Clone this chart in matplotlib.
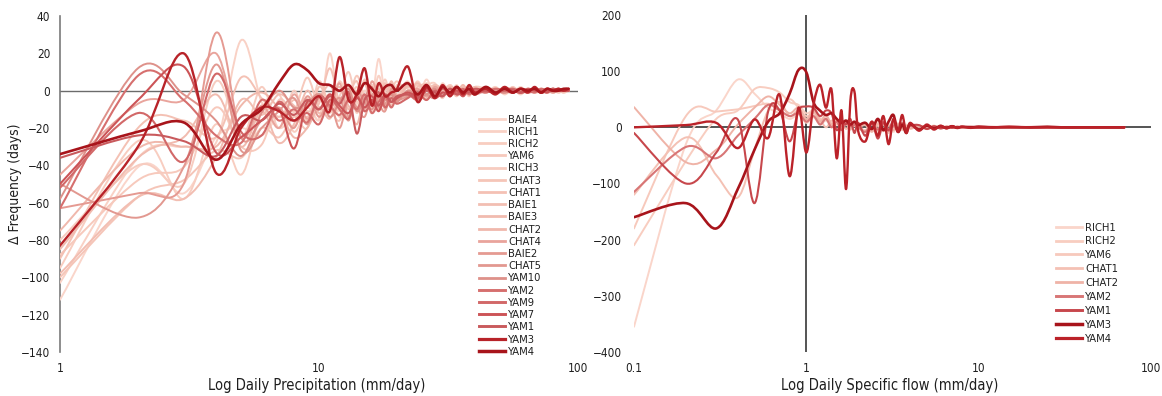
import numpy as np
import matplotlib
matplotlib.use("Agg")
import matplotlib.pyplot as plt
from matplotlib.path import Path
from matplotlib.patches import PathPatch
from matplotlib.lines import Line2D

plt.rcParams['font.family'] = ['DejaVu Sans']
plt.rcParams['font.stretch'] = 'condensed'

# ---- left panel: precipitation ----
precip_x = [1, 2, 3, 4, 5, 6, 7, 8, 9, 10, 11, 12, 13, 14, 15, 16, 17, 18, 19, 20,
            22, 24, 26, 28, 30, 32, 34, 36, 38, 40,
            44, 48, 52, 56, 60, 64, 68, 72, 76, 80, 84, 88, 92]

baie4_p = [-112, -41, -55, -25, -20, -24, -14, -19, -9, -16, -4, -11, -2, -7, 5, -4, 17, -2, 4, -6,
           3, -4, 6, -3, 4, -2, 3, -3, 2, -1, 2, -2, 1, -1, 2, -1, 1, -1, 1, 0, 1, 0, 0]
rich1_p = [-103, -36, -30, -28, 27, -6, -20, -12, -4, -15, 20, -10, 2, -12, 0, -6, 8, -4, 2, -3,
           5, -6, 2, 4, -3, 2, -2, 3, -2, 1, -1, 2, -2, 1, 0, 1, -1, 1, 0, -1, 1, 0, 0]
rich2_p = [-95, -27, -58, -18, -45, -10, -2, -22, -8, -3, -12, 5, -6, 2, -10, 3, -3, 6, -5, 1,
           -4, 5, -3, 1, -4, 3, -1, 1, -3, 2, 1, -1, 2, -1, 1, 0, 1, -1, 0, 1, 0, -1, 0]
yam6_p = [-88, -48, -41, -9, -30, -29, -5, -11, 7, -9, -2, -14, -5, 8, -4, -9, 3, -7, -1, 5,
          -2, 3, -5, 2, 1, -3, 2, -1, 2, -2, 1, 0, -1, 2, -1, 1, -1, 0, 1, -1, 0, 1, 0]
rich3_p = [-80, -40, -50, 5, -25, 2, -20, 0, -16, 5, -8, -3, 10, -6, -2, -12, 4, 0, -6, 3,
           1, -4, 4, -2, -1, 3, -2, 1, 0, -2, 2, -1, 0, 1, -2, 1, 0, -1, 1, 0, -1, 0, 0]
chat3_p = [-100, -57, -48, -32, -36, -20, -25, -14, -20, 2, -9, -16, -1, -10, 6, -6, -2, -8, 3, -4,
           4, -3, 0, 3, -2, 1, -3, 2, -1, 1, -1, 1, 0, -1, 1, 0, 1, -1, 0, 1, -1, 0, 0]
chat1_p = [-90, -20, -16, -25, 7, -4, -14, -5, -11, -7, 12, -6, -3, 5, -11, 0, -5, 4, -8, 1,
           -3, 2, 3, -4, 1, 2, -2, 0, 2, -1, 0, -1, 1, 1, -1, 0, 1, -1, 1, 0, 0, -1, 0]
baie1_p = [-98, -57, -58, -36, -5, -13, -2, -8, -14, -5, 3, -9, -14, 0, -7, 2, -10, 1, -3, -5,
           2, -2, -4, 3, 0, -2, 2, -1, -1, 2, -1, 1, -1, 0, 1, -1, 0, 1, -1, 0, 1, 0, 0]
baie3_p = [-85, -36, -25, -2, -30, -11, -28, -18, 0, -12, -6, 2, -10, -4, 4, -8, -1, -5, 5, -2,
           -1, 4, -2, -3, 2, 0, -1, 3, -2, 0, 1, -2, 1, 0, -1, 1, -1, 0, 1, -1, 0, 0, 0]
chat2_p = [-75, -31, -30, -30, -8, -1, -10, -25, -20, -9, -15, -4, -8, -18, -3, -7, 1, -10, -2, -6,
           3, -5, 1, -1, -3, 2, 0, -2, 1, -1, 0, 1, -1, 1, 0, -1, 1, 0, -1, 1, 0, 0, 0]
chat4_p = [-45, -7, -5, 20, -25, -8, -20, -2, -15, -4, -10, 4, -14, -2, -9, 5, -4, -8, 0, -3,
           -2, 1, -3, 2, -1, -1, 2, -2, 1, 0, 1, -1, 0, 1, -1, 0, 1, -1, 0, 1, 0, 0, 0]
baie2_p = [-63, -55, -50, 31, -25, -16, -9, -20, -3, -14, -6, -20, -4, -9, -14, -2, -7, -11, 1, -4,
           -2, -4, 1, -2, 2, -3, 1, -1, 0, -2, 1, 0, -1, 1, 0, -1, 1, 0, -1, 0, 1, 0, 0]
chat5_p = [-50, -68, -41, 14, -32, -20, -11, -4, -18, -2, -9, -4, -16, -1, -6, -10, -3, -7, -1, -5,
           -3, 0, -2, -4, 1, -2, 0, -1, 1, -2, 0, 1, -1, 0, 1, -1, 0, 1, 0, -1, 0, 0, 0]
yam10_p = [-58, 12, -2, -16, -35, -12, 0, -9, -7, -2, -14, -6, 1, -11, -4, 2, -9, -5, -2, -6,
           0, -3, -2, 1, -2, -1, 1, -2, 0, -1, 1, 0, -1, 1, -1, 0, 1, -1, 0, 1, 0, 0, 0]
yam2_p = [-63, 8, -5, -24, -28, -5, -16, -10, -17, -3, -8, -13, -5, -10, -2, -12, -6, -3, -9, -4,
          -2, -5, 0, -3, 1, -2, -1, 1, -2, 0, -1, 1, 0, -1, 1, 0, -1, 1, 0, 0, 1, 0, 0]
yam9_p = [-52, -12, -38, 9, -22, -24, -6, -16, -12, -18, -5, -10, -15, -3, -11, -6, -1, -9, -4, -7,
          -4, -1, -5, 0, -3, 1, -2, -1, 0, -2, 1, -1, 0, 1, -1, 0, 1, -1, 0, 0, 1, 0, 0]
yam7_p = [-50, -5, 13, -33, -25, -16, -10, -31, -6, -10, -2, -8, -12, -4, -9, -5, -11, -3, -6, -4,
          -1, -3, 1, -4, -1, -2, 0, -3, 1, -1, 0, -1, 1, 0, -1, 1, 0, 0, -1, 1, 0, 0, 0]
yam1_p = [-36, -24, -27, -35, -14, -16, -7, -13, -5, -10, -3, -7, -1, -23, -5, -3, -8, -2, -6, -3,
          -2, -4, 0, -1, -3, 1, -2, 0, -1, 1, 0, -1, 1, 0, -1, 0, 1, -1, 0, 1, 0, 0, 0]
yam3_p = [-83, -30, 20, -44, -20, -9, -11, -16, -9, -3, -11, 18, -5, -2, 12, -8, 4, -3, -1, 1,
          13, -6, 2, -4, 3, -3, 2, -2, 3, -1, 1, -2, 2, -1, 1, -1, 2, -1, 1, 0, 1, 0, 1]
yam4_p = [-34, -22, -17, -37, -18, -10, 4, 14, 11, 4, 3, 0, 3, -2, 4, 1, -3, 2, 3, 0,
          4, -2, 3, -3, 2, -1, 2, -1, 1, -2, 2, -1, 1, -1, 1, 0, 1, -1, 1, 0, 0, 1, 1]

precip_names = ['BAIE4', 'RICH1', 'RICH2', 'YAM6', 'RICH3', 'CHAT3', 'CHAT1', 'BAIE1', 'BAIE3', 'CHAT2',
                'CHAT4', 'BAIE2', 'CHAT5', 'YAM10', 'YAM2', 'YAM9', 'YAM7', 'YAM1', 'YAM3', 'YAM4']
precip_series = [baie4_p, rich1_p, rich2_p, yam6_p, rich3_p, chat3_p, chat1_p, baie1_p, baie3_p, chat2_p,
                 chat4_p, baie2_p, chat5_p, yam10_p, yam2_p, yam9_p, yam7_p, yam1_p, yam3_p, yam4_p]

# ---- right panel: specific flow ----
flow_x = [0.1, 0.2, 0.3, 0.4, 0.5, 0.6, 0.7, 0.8, 0.9, 1.0, 1.1, 1.2, 1.3, 1.4, 1.5, 1.6, 1.7, 1.8, 1.9, 2.0,
          2.2, 2.4, 2.6, 2.8, 3.0, 3.2, 3.4, 3.6, 3.8, 4.0,
          4.5, 5, 5.5, 6, 6.5, 7, 7.5, 8, 9, 10,
          12, 15, 20, 25, 30, 40, 50, 60, 70]

rich1_q = [-355, -30, 30, 85, 60, 35, 25, 15, 22, 8, 18, 5, 12, 2, 9, -3, 6, 0, 4, -2,
           8, -6, 10, -4, 6, -8, 4, -2, 5, -3, 3, -2, 2, -1, 2, -1, 1, 0, 1, 0,
           1, 0, 0, 1, 0, 0, 0, 0, 0]
rich2_q = [-210, -60, 15, 30, 68, 70, 62, 45, 40, 25, 30, 15, 20, 8, 12, 4, 10, 0, 5, 2,
           -5, 10, -8, 6, -3, 4, -6, 3, -2, 4, -3, 2, -1, 2, -1, 1, 0, 1, -1, 0,
           0, 1, 0, 0, 0, 0, 0, 0, 0]
yam6_q = [-180, 20, 28, 32, 38, 42, 32, 50, 35, 20, 25, 10, 16, 4, 11, -2, 7, 3, 6, 0,
          6, -4, 3, -7, 5, -2, 4, -5, 3, -1, 2, -3, 1, 0, -1, 1, -1, 0, 1, 0,
          0, 0, 1, 0, 0, 0, 0, 0, 0]
chat1_q = [-120, -18, -85, -125, -40, 30, 45, 20, 30, 12, 28, 15, 0, 12, 5, 8, -3, 6, 2, 4,
           -6, 8, -3, 5, -10, 6, -2, 3, -4, 2, 2, -1, 3, -2, 1, 0, 1, -1, 0, 1,
           0, 0, 0, 1, 0, 0, 0, 0, 0]
chat2_q = [36, -62, -40, 5, 35, 55, 40, 25, 35, 15, 30, 10, 22, 5, 15, 0, 8, -4, 5, 0,
           4, -8, 6, -2, 3, -5, 7, -3, 2, -2, 1, 2, -2, 1, 0, -1, 1, 0, 0, -1,
           1, 0, 0, 0, 0, 0, 0, 0, 0]
yam2_q = [-115, -35, -55, -15, 15, 40, 30, 20, 25, 10, 20, 5, 15, 0, 10, -5, 8, 2, 4, 0,
          -8, 6, -4, 10, -6, 3, -5, 8, -2, 3, -3, 2, -1, 1, -1, 1, 0, 1, 0, -1,
          0, 1, 0, 0, 0, 0, 0, 0, 0]
yam1_q = [-10, -100, -45, 14, -135, 28, 30, -25, 30, 37, 35, 20, 30, 25, -5, 10, 5, 15, -10, 8,
          -15, 10, -20, 8, -5, 12, -8, 4, -6, 3, 4, -3, 2, -2, 1, -1, 1, 0, 1, -1,
          0, 1, 0, 0, 0, 0, 0, 0, 0]
yam3_q = [-160, -135, -180, -110, -40, 10, 25, 60, 102, 98, 45, 30, 22, 25, 15, 8, 12, 5, 10, 4,
          8, -3, 15, -5, 10, 22, -8, 5, -10, 6, -4, 3, -2, 2, -1, 2, -1, 1, 0, 1,
          0, 0, 0, 1, 0, 0, 0, 0, 0]
yam4_q = [0, 4, 8, -37, 14, -19, 58, -87, 35, -45, 40, 76, 35, 67, -55, 30, -110, 46, 64, -7,
          -25, 10, -15, 20, -30, 15, -8, 22, -10, 8, -6, 5, -4, 3, -2, 2, -1, 1, -1, 1,
          0, 1, 0, 0, 0, 0, 0, 0, 0]

flow_names = ['RICH1', 'RICH2', 'YAM6', 'CHAT1', 'CHAT2', 'YAM2', 'YAM1', 'YAM3', 'YAM4']
flow_series = [rich1_q, rich2_q, yam6_q, chat1_q, chat2_q, yam2_q, yam1_q, yam3_q, yam4_q]

# ---- styles ----
precip_colors = ['#FAD5CA', '#F9D1C5', '#F8CDC0', '#F7C9BC', '#F7CCC0', '#F5C5B8', '#F4C1B4', '#F2BEB2',
                 '#F1BBAF', '#F0B8AC', '#E9A49C', '#E59A92', '#E29890', '#DE918A', '#D66F6E', '#D26868',
                 '#CC5457', '#C95A5D', '#B82329', '#A8141B']
precip_widths = [1.4] * 14 + [1.5] * 4 + [1.7, 1.9]
flow_colors = ['#FAD5CA', '#F8CDC0', '#F7C9BC', '#F4C1B4', '#EFB3A7', '#D87676', '#C7474C', '#A8141B', '#BB2229']
flow_widths = [1.4] * 5 + [1.5, 1.5, 1.9, 1.7]

TEXT = '#1f1f1f'


def smooth_line(ax, xs, ys, color, lw):
    # excel-like smoothed line: bezier through the points in log-x display space
    u = np.log10(np.asarray(xs, dtype=float))
    y = np.asarray(ys, dtype=float)
    n = len(u)
    verts = [(u[0], y[0])]
    codes = [Path.MOVETO]
    for i in range(n - 1):
        a = max(i - 1, 0)
        b = min(i + 2, n - 1)
        verts.append((u[i] + (u[i + 1] - u[a]) / 6, y[i] + (y[i + 1] - y[a]) / 6))
        verts.append((u[i + 1] - (u[b] - u[i]) / 6, y[i + 1] - (y[b] - y[i]) / 6))
        verts.append((u[i + 1], y[i + 1]))
        codes += [Path.CURVE4] * 3
    verts = np.array(verts)
    verts[:, 0] = 10 ** verts[:, 0]
    ax.add_patch(PathPatch(Path(verts, codes), facecolor='none', edgecolor=color, lw=lw,
                           capstyle='round', joinstyle='round', zorder=3))


fig = plt.figure(figsize=(11.62, 3.96), dpi=100)
ax1 = fig.add_axes([60 / 1162, 1 - 352 / 396, 518 / 1162, 336 / 396])
ax2 = fig.add_axes([634 / 1162, 1 - 352 / 396, 517 / 1162, 337 / 396])

# left
ax1.set_xscale('log')
ax1.set_xlim(1, 100)
ax1.set_ylim(-140, 40)
ax1.axhline(0, color='#6b6b6b', lw=1.0, zorder=1)
for vals, c, w in zip(precip_series, precip_colors, precip_widths):
    smooth_line(ax1, precip_x, vals, c, w)
for s in ['top', 'right', 'bottom']:
    ax1.spines[s].set_visible(False)
ax1.spines['left'].set_color('#7a7a7a')
ax1.spines['left'].set_linewidth(1.2)
ax1.set_yticks(range(-140, 41, 20))
ax1.set_xticks([1, 10, 100])
ax1.set_xticklabels(['1', '10', '100'])
ax1.minorticks_off()
ax1.tick_params(length=0, labelsize=8.5, colors=TEXT)
ax1.tick_params(axis='y', pad=7)
ax1.tick_params(axis='x', pad=7)
ax1.set_xlabel('Log Daily Precipitation (mm/day)', fontsize=10.5, color=TEXT)
ax1.xaxis.set_label_coords(0.496, -0.078)
ax1.set_ylabel('Δ Frequency (days)', fontsize=10, color=TEXT)
ax1.yaxis.set_label_coords(-0.073, 0.5)
h1 = [Line2D([], [], color=c, lw=w + 0.6) for c, w in zip(precip_colors, precip_widths)]
ax1.legend(h1, precip_names, loc='upper left', bbox_to_anchor=(473 / 1162, 1 - 109 / 396),
           bbox_transform=fig.transFigure, frameon=False, fontsize=8, labelspacing=0.2,
           handlelength=2.4, handletextpad=0.25, borderpad=0, labelcolor=TEXT)

# right
ax2.set_xscale('log')
ax2.set_xlim(0.1, 100)
ax2.set_ylim(-400, 200)
ax2.axhline(0, color='#262626', lw=1.1, zorder=1)
ax2.axvline(1, color='#262626', lw=1.1, zorder=1)
for vals, c, w in zip(flow_series, flow_colors, flow_widths):
    smooth_line(ax2, flow_x, vals, c, w)
for s in ax2.spines.values():
    s.set_visible(False)
ax2.set_yticks(range(-400, 201, 100))
ax2.set_xticks([0.1, 1, 10, 100])
ax2.set_xticklabels(['0.1', '1', '10', '100'])
ax2.minorticks_off()
ax2.tick_params(length=0, labelsize=8.5, colors=TEXT)
ax2.tick_params(axis='y', pad=9)
ax2.tick_params(axis='x', pad=7)
ax2.set_xlabel('Log Daily Specific flow (mm/day)', fontsize=10.5, color=TEXT)
ax2.xaxis.set_label_coords(0.495, -0.078)
h2 = [Line2D([], [], color=c, lw=w + 0.6) for c, w in zip(flow_colors, flow_widths)]
ax2.legend(h2, flow_names, loc='upper left', bbox_to_anchor=(1050 / 1162, 1 - 217 / 396),
           bbox_transform=fig.transFigure, frameon=False, fontsize=8, labelspacing=0.35,
           handlelength=2.4, handletextpad=0.25, borderpad=0, labelcolor=TEXT)

fig.savefig('out.png', dpi=100)
